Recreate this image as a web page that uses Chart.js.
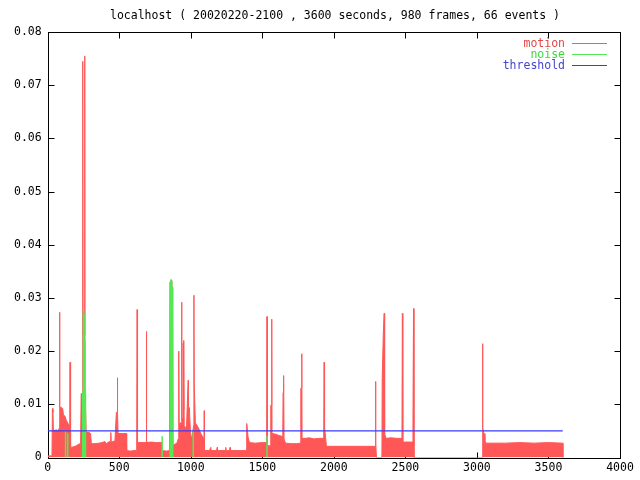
<!DOCTYPE html>
<html>
<head>
<meta charset="utf-8">
<script src="https://cdn.jsdelivr.net/npm/chart.js@4/dist/chart.umd.min.js"></script>
<style>
  html, body { margin: 0; padding: 0; background: #fff; }
  canvas { display: block; }
</style>
</head>
<body>
<canvas id="c" width="640" height="480"></canvas>
<script>
var TITLE = "localhost ( 20020220-2100 , 3600 seconds, 980 frames, 66 events )";

// motion: seconds / value
var motionX = [
  0, 30, 33, 37, 40, 60, 72, 80, 82, 84, 86, 95, 105, 110, 120, 130, 140, 150, 154, 156,
  158, 162, 180, 200, 215, 230, 234, 243, 245, 247, 257, 259, 261, 266, 269, 290, 300, 305, 330, 360,
  380, 400, 410, 425, 438, 441, 444, 470, 480, 485, 487, 489, 492, 520, 550, 552, 580, 600, 622, 625,
  628, 660, 688, 690, 692, 720, 760, 795, 797, 830, 852, 855, 860, 866, 872, 876, 890, 905, 912, 915,
  917, 919, 925, 934, 936, 938, 945, 947, 950, 952, 954, 962, 970, 975, 980, 982, 984, 990, 998, 1005,
  1015, 1020, 1022, 1024, 1028, 1032, 1044, 1055, 1070, 1085, 1092, 1094, 1096, 1130, 1140, 1142, 1180, 1185, 1187, 1240,
  1245, 1247, 1270, 1275, 1277, 1330, 1370, 1389, 1391, 1395, 1400, 1410, 1450, 1500, 1531, 1533, 1535, 1555, 1559, 1563,
  1566, 1568, 1590, 1610, 1635, 1643, 1645, 1648, 1650, 1652, 1662, 1700, 1740, 1766, 1769, 1773, 1776, 1778, 1800, 1830,
  1860, 1900, 1929, 1932, 1935, 1940, 1948, 2000, 2100, 2200, 2288, 2291, 2294, 2298, 2336, 2338, 2346, 2352, 2355, 2366,
  2400, 2440, 2476, 2479, 2482, 2520, 2550, 2553, 2557, 2560, 3036, 3039, 3042, 3050, 3056, 3062, 3200, 3300, 3400, 3500,
  3600, 3601
];
var motionY = [
  0.0003, 0.0003, 0.0092, 0.0085, 0.005, 0.0052, 0.005, 0.0055, 0.0092, 0.0273, 0.0095, 0.0094, 0.0092, 0.008, 0.0078, 0.007, 0.0065, 0.006, 0.0045, 0.0179,
  0.0035, 0.0019, 0.002, 0.0022, 0.0025, 0.0026, 0.012, 0.012, 0.0745, 0.023, 0.023, 0.0755, 0.013, 0.013, 0.0047, 0.0047, 0.0045, 0.0026, 0.0026, 0.0027,
  0.0028, 0.003, 0.0026, 0.0029, 0.003, 0.0047, 0.0029, 0.0031, 0.0085, 0.0085, 0.015, 0.0085, 0.0045, 0.0045, 0.0045, 0.0013, 0.0012, 0.0013, 0.0013, 0.0278,
  0.0028, 0.0028, 0.0028, 0.0237, 0.0028, 0.0029, 0.0028, 0.0028, 0.0013, 0.0012, 0.0013, 0.033, 0.0333, 0.0333, 0.031, 0.0023, 0.0025, 0.0028, 0.0035, 0.0062,
  0.020, 0.0062, 0.0065, 0.0065, 0.0292, 0.007, 0.0075, 0.0215, 0.009, 0.022, 0.006, 0.0057, 0.0055, 0.0094, 0.0094, 0.0145, 0.0094, 0.0094, 0.0045, 0.0035,
  0.005, 0.006, 0.0305, 0.014, 0.014, 0.0065, 0.006, 0.0055, 0.0045, 0.0038, 0.0035, 0.0088, 0.0013, 0.0013, 0.0019, 0.0013, 0.0013, 0.0019, 0.0013, 0.0013,
  0.0019, 0.0013, 0.0013, 0.0019, 0.0013, 0.0013, 0.0013, 0.0013, 0.0064, 0.0055, 0.0039, 0.0028, 0.0027, 0.0028, 0.0028, 0.0265, 0.0022, 0.0022, 0.0098, 0.0098,
  0.026, 0.0045, 0.0044, 0.0042, 0.004, 0.0039, 0.0122, 0.0122, 0.0154, 0.0035, 0.0027, 0.0026, 0.0026, 0.0027, 0.013, 0.013, 0.0195, 0.0036, 0.0036, 0.0037,
  0.0035, 0.0036, 0.0036, 0.0179, 0.0057, 0.0045, 0.0021, 0.0021, 0.0021, 0.0021, 0.0021, 0.0143, 0.0027, 0, 0, 0.0148, 0.0236, 0.0271, 0.0044, 0.0036,
  0.0037, 0.0036, 0.0036, 0.0271, 0.0029, 0.0029, 0.0029, 0.0065, 0.028, 0, 0, 0.0214, 0.0055, 0.0045, 0.0032, 0.0027, 0.0027, 0.0028, 0.0027, 0.0028,
  0.0027, 0
];

// noise: only the few impulses that show above zero
var noiseX = [125, 140, 245, 250, 255, 260, 264, 800, 856, 862, 868, 874, 1017, 1533];
var noiseY = [0.005, 0.0045, 0.0125, 0.0277, 0.027, 0.022, 0.012, 0.004, 0.033, 0.0335, 0.0333, 0.032, 0.005, 0.004];

var thresholdX = [0, 3600];
var thresholdY = [0.005, 0.005];

var xTicks = [0, 500, 1000, 1500, 2000, 2500, 3000, 3500, 4000];
var yTicks = [0, 0.01, 0.02, 0.03, 0.04, 0.05, 0.06, 0.07, 0.08];

var FONT = "'DejaVu Sans Mono', 'Liberation Mono', monospace";
var RED = "#ff5757", GREEN = "#55e855", BLUE = "#3a3aff";

function pts(xs, ys) {
    return xs.map(function (x, i) { return { x: x, y: ys[i] }; });
}

// each noise value becomes a vertical impulse from zero
function impulses(xs, ys) {
    var out = [];
    xs.forEach(function (x, i) {
        out.push({ x: x, y: 0 }, { x: x, y: ys[i] }, { x: x, y: null });
    });
    return out;
}

// gnuplot style frame: border plus inward ticks on all four sides, title above
var frame = {
    id: "frame",
    beforeDatasetsDraw: function (chart) {
        var ctx = chart.ctx, a = chart.chartArea, sx = chart.scales.x, sy = chart.scales.y;
        var L = Math.round(a.left) + 0.5, R = Math.round(a.right) + 0.5;
        var T = Math.round(a.top) + 0.5, B = Math.round(a.bottom) + 0.5;
        ctx.save();
        ctx.strokeStyle = "#000";
        ctx.lineWidth = 1;
        ctx.beginPath();
        xTicks.forEach(function (v) {
            var p = Math.round(sx.getPixelForValue(v)) + 0.5;
            ctx.moveTo(p, B); ctx.lineTo(p, B - 6);
            ctx.moveTo(p, T); ctx.lineTo(p, T + 6);
        });
        yTicks.forEach(function (v) {
            var p = Math.round(sy.getPixelForValue(v)) + 0.5;
            ctx.moveTo(L, p); ctx.lineTo(L + 6, p);
            ctx.moveTo(R, p); ctx.lineTo(R - 6, p);
        });
        ctx.stroke();
        ctx.strokeRect(L, T, R - L, B - T);

        ctx.fillStyle = "#000";
        ctx.font = "11.5px " + FONT;
        ctx.textAlign = "center";
        ctx.textBaseline = "middle";
        ctx.fillText(TITLE, 335, 16);
        ctx.restore();
    }
};

// key in the top right corner
var key = {
    id: "key",
    afterDatasetsDraw: function (chart) {
        var ctx = chart.ctx, a = chart.chartArea;
        ctx.save();
        ctx.font = "11.5px " + FONT;
        ctx.textAlign = "right";
        ctx.textBaseline = "middle";
        chart.data.datasets.forEach(function (ds, i) {
            var yy = Math.round(a.top + 11 + i * 11);
            ctx.fillStyle = ds.keyColor;
            ctx.fillText(ds.label, Math.round(a.right) - 55, yy + 1);
            ctx.fillStyle = ds.borderColor;
            ctx.fillRect(Math.round(a.right) - 48, yy, 35, 1);
        });
        ctx.restore();
    }
};

new Chart(document.getElementById("c"), {
    type: "line",
    data: {
        datasets: [
            { label: "motion", data: pts(motionX, motionY), borderColor: RED, backgroundColor: RED, keyColor: "#e04848",
              borderWidth: 1, pointRadius: 0, tension: 0, fill: "origin", order: 3 },
            { label: "noise", data: impulses(noiseX, noiseY), borderColor: GREEN, keyColor: "#3fd83f",
              borderWidth: 1.5, pointRadius: 0, tension: 0, fill: false, spanGaps: false, order: 2 },
            { label: "threshold", data: pts(thresholdX, thresholdY), borderColor: BLUE, keyColor: "#4646d0",
              borderWidth: 1.2, pointRadius: 0, tension: 0, fill: false, order: 1 }
        ]
    },
    options: {
        responsive: false,
        animation: false,
        devicePixelRatio: 1,
        layout: { padding: { left: 8, right: 20, top: 32, bottom: 1 } },
        plugins: {
            legend: { display: false },
            tooltip: { enabled: false },
            title: { display: false }
        },
        scales: {
            x: {
                type: "linear", min: 0, max: 4000,
                afterBuildTicks: function (s) { s.ticks = xTicks.map(function (v) { return { value: v }; }); },
                grid: { display: false, drawTicks: false },
                border: { display: false },
                ticks: { color: "#000", padding: 5, maxRotation: 0, font: { family: FONT, size: 11.5, lineHeight: 1 },
                         callback: function (v) { return String(v); } }
            },
            y: {
                type: "linear", min: 0, max: 0.08,
                afterBuildTicks: function (s) { s.ticks = yTicks.map(function (v) { return { value: v }; }); },
                grid: { display: false, drawTicks: false },
                border: { display: false },
                ticks: { color: "#000", padding: 6, font: { family: FONT, size: 11.5 },
                         callback: function (v) { return v === 0 ? "0" : v.toFixed(2); } }
            }
        }
    },
    plugins: [frame, key]
});
</script>
</body>
</html>
